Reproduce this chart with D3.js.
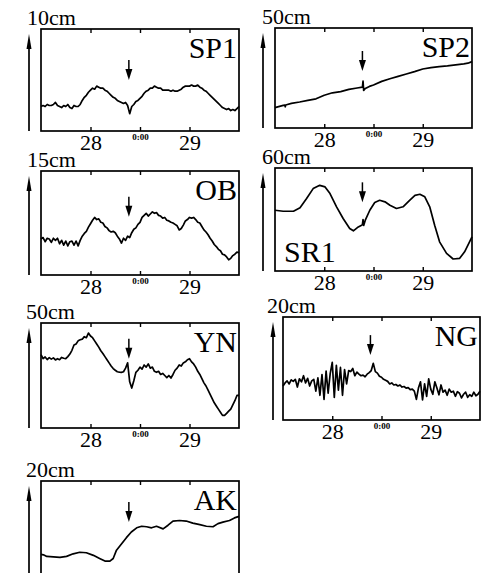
<!DOCTYPE html>
<html>
<head>
<meta charset="utf-8">
<script src="https://cdn.jsdelivr.net/npm/d3@7"></script>
<style>
  html, body { margin: 0; padding: 0; background: #fff; overflow: hidden; }
  text { font-family: "Liberation Serif", "DejaVu Serif", serif; fill: #000; }
</style>
</head>
<body>
<svg id="chart" width="484" height="573"></svg>
<script>
// Tide records around the event, time in hours from 0:00 on the 28th
const tickHours = [12, 24, 36];
const tickLabels = ['28', '0:00', '29'];
const stations = ['SP1', 'SP2', 'OB', 'SR1', 'YN', 'NG', 'AK'];
const unitLabels = ['10cm', '50cm', '15cm', '60cm', '50cm', '20cm', '20cm'];
const unitMax = [10, 50, 15, 60, 50, 20, 20];
const eventHour = 21.3;
// value (cm) where the event arrow tip sits in each panel
const arrowTips = [5.0, 28.5, 8.4, 40, 33, 12.6, 12.1];

// half-hourly readings (cm), 0h .. 48h
const sp1 = [2.4,2.5,2.4,2.6,2.5,2.5,2.6,2.8,2.5,2.4,
  2.3,2.5,2.4,2.6,2.3,2.2,2.5,2.4,2.4,2.6,
  3.0,3.3,3.5,3.8,4.0,4.2,4.1,4.4,4.3,4.2,
  4.2,4.0,3.9,3.7,3.5,3.3,3.2,3.0,2.9,2.8,
  2.7,2.8,2.5,1.7,2.4,2.6,2.9,3.0,3.2,3.4,
  3.7,3.9,4.0,4.2,4.2,4.4,4.3,4.2,4.2,4.0,
  4.0,4.0,4.0,3.9,4.0,3.9,3.9,4.0,4.1,4.3,
  4.4,4.4,4.4,4.5,4.4,4.4,4.5,4.3,4.2,4.0,
  3.9,3.7,3.5,3.3,3.1,2.9,2.7,2.5,2.3,2.2,
  2.1,2.2,2.0,2.1,2.0,2.2,2.4];
const ob = [5.2,5.4,4.8,5.3,5.2,4.7,5.3,5.0,5.3,4.5,
  5.0,4.3,4.9,4.2,4.8,4.9,4.3,4.9,4.2,5.0,
  5.6,6.0,6.3,6.9,7.4,7.9,8.3,8.0,8.1,7.6,
  7.5,7.0,6.8,6.4,6.2,6.3,6.1,5.6,5.2,4.6,
  5.3,5.0,5.6,5.4,6.1,6.6,6.8,7.3,7.6,8.3,
  8.6,8.9,8.5,8.8,9.1,8.9,9.0,8.6,8.5,8.2,
  8.3,7.9,7.8,7.6,7.5,7.3,7.1,6.5,6.7,7.2,
  7.8,8.0,8.3,8.2,8.3,8.0,7.6,7.5,7.0,6.5,
  6.2,5.8,5.3,4.9,4.4,4.1,3.7,3.5,3.0,2.9,
  2.6,2.2,2.4,2.8,3.0,3.3,3.2];
const yn = [34.9,33.0,33.8,32.6,33.5,32.8,33.4,32.4,33.0,32.5,
  33.6,33.2,33.0,34.0,35.2,37.0,39.5,40.0,41.5,42.0,
  42.3,43.5,43.0,45.2,43.8,43.0,41.5,40.0,38.5,36.8,
  35.5,34.0,32.5,31.0,29.5,28.3,27.5,26.8,26.6,26.5,
  26.8,28.5,31.0,22.0,19.0,22.5,26.5,27.5,29.0,28.0,
  30.0,29.0,30.5,28.5,29.0,27.0,26.5,27.0,25.5,26.0,
  25.0,24.0,25.0,23.8,25.5,27.5,28.5,30.0,29.5,31.0,
  31.5,32.5,33.0,31.5,30.5,29.0,27.0,25.5,23.5,21.5,
  20.0,18.0,16.0,14.0,12.0,10.5,9.0,7.5,6.0,6.0,
  7.0,8.0,9.0,11.0,13.0,15.5,15.5];
const ng = [6.6,7.2,7.6,7.0,7.8,7.5,7.9,6.4,8.0,7.4,
  8.6,7.2,8.1,6.6,7.6,7.9,5.6,8.2,4.8,8.8,
  4.0,9.5,5.2,9.0,11.2,4.4,10.6,5.8,10.2,4.8,
  9.8,7.0,9.6,9.4,10.0,8.6,9.3,8.9,8.6,8.7,
  8.4,8.9,9.2,9.6,11.0,9.4,9.1,8.5,8.3,7.9,
  7.7,7.5,7.0,7.2,6.8,6.9,6.6,6.8,6.4,6.5,
  6.2,6.3,5.9,6.0,5.6,4.0,6.2,7.4,3.9,7.0,
  4.6,8.0,6.0,5.0,7.4,6.2,4.9,6.8,5.4,5.8,
  4.8,6.0,5.4,5.6,4.6,5.5,5.2,4.3,5.0,5.4,
  4.4,4.9,4.6,5.4,4.7,5.0,5.6];

// smoother records as [hour, cm]
const sp2 = [[0,10.2],[2,11.3],[2.4,11.4],[2.5,10.6],[2.6,11.5],[4,12.3],[6,13.0],[8,13.8],
  [10,14.6],[12,16.4],[14,17.6],[16,18.2],[18,19.3],[20,20.0],[21.3,20.4],[21.45,23.5],
  [21.6,18.8],[22,19.8],[23,20.8],[24,21.5],[26,23.3],[28,24.6],[30,25.8],[32,27.0],
  [34,28.2],[36,29.5],[38,30.2],[40,30.7],[42,31.1],[44,31.6],[46,32.1],[47,32.4],[48,33.2]];
const sr1 = [[0,35.4],[2,34.8],[4.5,34.8],[6.1,36.8],[7.7,42.2],[9.3,48.0],[10.9,49.9],
  [12.2,49.0],[13.4,45.1],[15,37.4],[16.6,30.6],[18.2,24.8],[19.1,23.4],[20.3,25.7],
  [21.1,26.7],[21.3,27.0],[21.45,30.0],[21.6,26.5],[22,29.6],[23.1,35.4],[24.3,39.9],
  [25.5,41.2],[26.8,40.3],[28,38.3],[29.6,36.4],[31.2,37.4],[32.8,41.2],[34.1,44.1],
  [35.3,44.7],[36.5,43.2],[37.7,37.4],[38.9,26.7],[40.1,17.0],[41.8,10.3],[43.4,7.0],
  [45,7.4],[46.2,11.2],[47.4,17.0],[48,19.9]];
const ak = [[0,5.9],[0.6,5.8],[1.4,5.5],[3,5.4],[4.6,5.3],[6.2,5.5],[7.8,6.0],[9.4,6.3],
  [11,6.2],[12.7,5.7],[14.2,5.1],[15.5,4.6],[16.7,4.6],[17.5,5.1],[18.3,6.7],[19.5,7.9],
  [20.7,9.1],[21.9,10.2],[23.2,11.0],[24.4,11.3],[25.6,11.2],[26.8,11.0],[28,11.3],
  [29.6,10.8],[30.8,11.5],[32,12.3],[33.6,12.4],[35.2,12.3],[36.8,11.9],[38.5,11.6],
  [40.1,11.3],[41.7,11.2],[42.9,11.8],[44.1,12.1],[45.7,12.4],[46.9,12.9],[48,13.2]];

const halfHourly = vals => vals.map((v, i) => [i * 0.5, v]);
const series = [halfHourly(sp1), sp2, halfHourly(ob), sr1, halfHourly(yn), halfHourly(ng), ak];

// panel boxes on the page (last one runs past the bottom edge)
const layout = [
  {left: 41,  top: 29,  w: 198, h: 102, axisGap: 12, unitDx: -14},
  {left: 275, top: 28,  w: 197, h: 100, axisGap: 12, unitDx: -13},
  {left: 41,  top: 171, w: 198, h: 104, axisGap: 12, unitDx: -14},
  {left: 275, top: 168, w: 197, h: 103, axisGap: 12, unitDx: -13},
  {left: 41,  top: 323, w: 198, h: 105, axisGap: 12, unitDx: -15},
  {left: 283, top: 317, w: 197, h: 103, axisGap: 10, unitDx: -16},
  {left: 41,  top: 481, w: 198, h: 104, axisGap: 12, unitDx: -15}
];

const svg = d3.select('#chart');

stations.forEach((name, i) => {
  const L = layout[i];
  const g = svg.append('g').attr('transform', `translate(${L.left},${L.top})`);
  const x = d3.scaleLinear().domain([0, 48]).range([0, L.w]);
  const y = d3.scaleLinear().domain([0, unitMax[i]]).range([L.h, 0]);
  const labelsVisible = L.top + L.h + 20 < 573;

  // frame
  g.append('rect').attr('width', L.w).attr('height', L.h)
    .attr('fill', 'none').attr('stroke', '#000').attr('stroke-width', 1.7);

  // inward ticks top and bottom
  const bottom = g.append('g').attr('transform', `translate(0,${L.h})`)
    .call(d3.axisBottom(x).tickValues(tickHours).tickSize(-4)
      .tickFormat((d, k) => labelsVisible ? tickLabels[k] : ''));
  bottom.select('.domain').remove();
  bottom.selectAll('line').attr('stroke-width', 1.4);
  bottom.selectAll('text')
    .attr('dy', null)
    .attr('y', (d, k) => k === 1 ? 9 : 19)
    .attr('font-size', (d, k) => k === 1 ? 9 : 22)
    .attr('font-weight', (d, k) => k === 1 ? 'bold' : null)
    .attr('font-family', '"Liberation Serif", serif')
    .attr('fill', '#000');
  const top = g.append('g')
    .call(d3.axisTop(x).tickValues(tickHours).tickSize(-4).tickFormat(''));
  top.select('.domain').remove();
  top.selectAll('line').attr('stroke-width', 1.4);

  // record
  g.append('path').datum(series[i])
    .attr('fill', 'none').attr('stroke', '#000').attr('stroke-width', 1.7)
    .attr('stroke-linejoin', 'round')
    .attr('d', d3.line().x(d => x(d[0])).y(d => y(d[1])));

  // event arrow
  const ex = x(eventHour), ey = y(arrowTips[i]);
  g.append('line').attr('x1', ex).attr('x2', ex).attr('y1', ey - 20).attr('y2', ey - 10)
    .attr('stroke', '#000').attr('stroke-width', 1.5);
  g.append('path').attr('d', `M${ex - 3.5},${ey - 11}L${ex + 3.5},${ey - 11}L${ex},${ey}Z`)
    .attr('fill', '#000');

  // vertical scale arrow
  const ax = -L.axisGap;
  g.append('line').attr('x1', ax).attr('x2', ax).attr('y1', L.h).attr('y2', 14)
    .attr('stroke', '#000').attr('stroke-width', 1.7);
  g.append('path').attr('d', `M${ax - 2.5},${20}L${ax + 2.5},${20}L${ax},${5}Z`).attr('fill', '#000');

  g.append('text').attr('x', L.unitDx).attr('y', -4)
    .attr('font-size', 22).text(unitLabels[i]);

  // station name
  if (name === 'SR1') {
    g.append('text').attr('x', 9).attr('y', L.h - 9).attr('font-size', 30).text(name);
  } else {
    g.append('text').attr('x', L.w - 2).attr('y', 29).attr('text-anchor', 'end')
      .attr('font-size', 30).text(name);
  }
});
</script>
</body>
</html>
